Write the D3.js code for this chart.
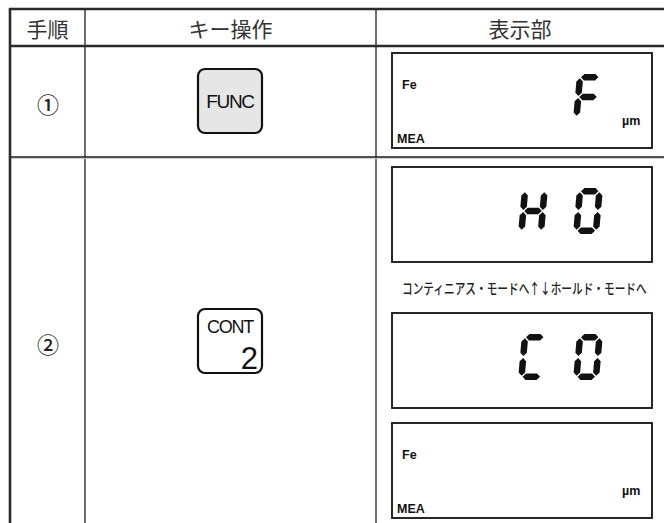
<!DOCTYPE html>
<html><head><meta charset="utf-8">
<script src="https://cdn.jsdelivr.net/npm/d3@7"></script>
<style>body{margin:0;background:#fff}svg{display:block}</style>
</head><body><svg id="c" width="664" height="523"></svg>
<script>
// ---- data ----
const headers = ["手順", "キー操作", "表示部"];
const steps = ["①", "②"];
const keyLabels = ["FUNC", "CONT"];
const keySubLabels = ["", "2"];
const keyFilled = [true, false];
const displayChars = [" F", "H0", "C0", "  "];
const displayFe = [true, false, false, true];
const displayMea = [true, false, false, true];
const displayUm = [true, false, false, true];
const modeNote = "コンティニアス・モードへ↑↓ホールド・モードへ";

const SEG = {
  "F": "aefg", "H": "bcefg", "0": "abcdef", "C": "adef", " ": ""
};

// ---- layout ----
const svg = d3.select("#c");
const SW = 664, SH = 523;
const tL = 10, tT = 9, headB = 46, tR = 664;
const colX = d3.scaleOrdinal().domain([0, 1, 2, 3]).range([tL, 85, 376, tR]);
const JP = "'Noto Sans CJK JP','Noto Sans',sans-serif";
const AR = "'Liberation Sans',Arial,sans-serif";

// header texts
svg.selectAll("text.hd").data(headers).join("text").attr("class", "hd")
  .attr("x", (d, i) => (colX(i) + colX(i + 1)) / 2)
  .attr("y", 28).attr("text-anchor", "middle").attr("dominant-baseline", "central")
  .attr("font-family", JP).attr("font-size", 21).attr("fill", "#333").text(d => d);

// column dividers (grey)
svg.selectAll("line.col").data([1, 2]).join("line").attr("class", "col")
  .attr("x1", d => colX(d)).attr("x2", d => colX(d)).attr("y1", tT).attr("y2", SH)
  .attr("stroke", "#6e6e6e").attr("stroke-width", 2);

// row line
svg.append("line").attr("x1", tL).attr("x2", tR).attr("y1", 157).attr("y2", 157)
  .attr("stroke", "#1a1a1a").attr("stroke-width", 1.5);
svg.append("line").attr("x1", tL).attr("x2", tR).attr("y1", 158.5).attr("y2", 158.5)
  .attr("stroke", "#cfcfcf").attr("stroke-width", 1);

// thick lines
svg.append("line").attr("x1", tL - 1).attr("x2", tR).attr("y1", tT).attr("y2", tT)
  .attr("stroke", "#2a2a2a").attr("stroke-width", 2.6);
svg.append("line").attr("x1", tL - 1).attr("x2", tR).attr("y1", headB).attr("y2", headB)
  .attr("stroke", "#2a2a2a").attr("stroke-width", 2.6);
svg.append("line").attr("x1", tL).attr("x2", tL).attr("y1", tT - 1).attr("y2", SH)
  .attr("stroke", "#2a2a2a").attr("stroke-width", 2.6);

// step numbers
const stepCY = [103, 343];
svg.selectAll("text.st").data(steps).join("text").attr("class", "st")
  .attr("x", 48).attr("y", (d, i) => stepCY[i]).attr("text-anchor", "middle")
  .attr("dominant-baseline", "central").attr("font-family", JP).attr("font-size", 22)
  .attr("font-weight", 500).attr("fill", "#222").text(d => d);

// keys
const keyY = [69, 309];
const kg = svg.selectAll("g.key").data(keyLabels).join("g").attr("class", "key")
  .attr("transform", (d, i) => `translate(198,${keyY[i]})`);
kg.append("rect").attr("width", 64).attr("height", 64).attr("rx", 7)
  .attr("fill", (d, i) => keyFilled[i] ? "#e6e6e6" : "#fff").attr("stroke", "#111").attr("stroke-width", 2.2);
kg.append("text").attr("x", 32)
  .attr("y", (d, i) => keySubLabels[i] ? 24 : 39)
  .attr("text-anchor", "middle").attr("font-family", AR)
  .attr("font-size", (d, i) => keySubLabels[i] ? 18 : 19)
  .attr("letter-spacing", -1.3).attr("fill", "#111").text(d => d);
kg.append("text").attr("x", 60).attr("y", 60).attr("text-anchor", "end")
  .attr("font-family", AR).attr("font-size", 31).attr("fill", "#111")
  .text((d, i) => keySubLabels[i]);

// displays
const boxTop = [53, 167, 313, 423];
const boxL = 392, boxR = 652, boxH = 95;
const dg = svg.selectAll("g.disp").data(displayChars).join("g").attr("class", "disp")
  .attr("transform", (d, i) => `translate(${boxL},${boxTop[i]})`);
dg.append("rect").attr("width", boxR - boxL).attr("height", boxH)
  .attr("fill", "#fff").attr("stroke", "#111").attr("stroke-width", 1.8);
dg.filter((d, i) => displayFe[i]).append("text").attr("x", 10).attr("y", 36)
  .attr("font-family", AR).attr("font-weight", 700).attr("font-size", 12.5).attr("fill", "#111").text("Fe");
dg.filter((d, i) => displayMea[i]).append("text").attr("x", 5).attr("y", 90)
  .attr("font-family", AR).attr("font-weight", 700).attr("font-size", 12.5).attr("fill", "#111").text("MEA");
dg.filter((d, i) => displayUm[i]).append("text").attr("x", 230).attr("y", 72)
  .attr("font-family", AR).attr("font-weight", 700).attr("font-size", 12.5).attr("fill", "#111").text("µm");

// 7-seg
const DW = 26, DH = 46, T = 6.5, SL = 4, GAP = 1;
function segPts(s) {
  const h = T / 2, m = DH / 2;
  const hor = (vc, u1, u2) => [[u1, vc], [u1 + h, vc - h], [u2 - h, vc - h], [u2, vc], [u2 - h, vc + h], [u1 + h, vc + h]];
  const ver = (uc, v1, v2) => [[uc, v1], [uc + h, v1 + h], [uc + h, v2 - h], [uc, v2], [uc - h, v2 - h], [uc - h, v1 + h]];
  let p;
  switch (s) {
    case "a": p = hor(h, h + GAP, DW - h - GAP); break;
    case "d": p = hor(DH - h, h + GAP, DW - h - GAP); break;
    case "g": p = hor(m, h + GAP, DW - h - GAP); break;
    case "f": p = ver(h, h + GAP, m - GAP); break;
    case "e": p = ver(h, m + GAP, DH - h - GAP); break;
    case "b": p = ver(DW - h, h + GAP, m - GAP); break;
    case "c": p = ver(DW - h, m + GAP, DH - h - GAP); break;
  }
  return p.map(([u, v]) => [u + (DH - v) * SL / DH, v]);
}
const digitX = [126, 181];
dg.each(function (str) {
  const g = d3.select(this);
  str.split("").forEach((ch, k) => {
    const segs = SEG[ch].split("");
    g.append("g").attr("transform", `translate(${digitX[k]},21)`)
      .selectAll("polygon").data(segs).join("polygon")
      .attr("points", s => segPts(s).map(p => p.join(",")).join(" "))
      .attr("fill", "#111");
  });
});

// mode note (horizontally condensed)
const note = svg.append("text").attr("x", 0).attr("y", 0).attr("dominant-baseline", "central")
  .attr("font-family", JP).attr("font-size", 14.5).attr("font-weight", 500).attr("fill", "#222")
  .text(modeNote);
const natW = note.node().getComputedTextLength() || 320;
note.attr("transform", `translate(402,288) scale(${245 / natW},1)`);
</script></body></html>
